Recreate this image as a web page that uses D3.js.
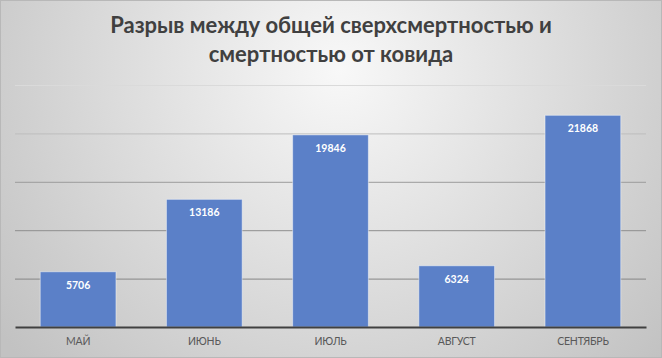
<!DOCTYPE html>
<html><head><meta charset="utf-8">
<script src="https://cdn.jsdelivr.net/npm/d3@7"></script>
<style>html,body{margin:0;padding:0;background:#fff;}svg{display:block;}</style>
</head><body>
<script>
const categories = ["МАЙ", "ИЮНЬ", "ИЮЛЬ", "АВГУСТ", "СЕНТЯБРЬ"];
const values = [5706, 13186, 19846, 6324, 21868];
const yTicks = [0, 5000, 10000, 15000, 20000, 25000];
const titleLines = ["Разрыв между общей сверхсмертностью и", "смертностью от ковида"];

const W = 662, H = 358;
const svg = d3.select("body").append("svg").attr("width", W).attr("height", H);
const defs = svg.append("defs");
const rg = defs.append("radialGradient").attr("id","bg").attr("gradientUnits","userSpaceOnUse")
  .attr("cx", 340).attr("cy", 70).attr("r", 430);
rg.append("stop").attr("offset","0%").attr("stop-color","#f8f8f8");
rg.append("stop").attr("offset","100%").attr("stop-color","#c2c2c2");
svg.append("rect").attr("width",W).attr("height",H).attr("fill","url(#bg)");
svg.append("rect").attr("x",0.5).attr("y",0.5).attr("width",W-1).attr("height",H-1)
  .attr("fill","none").attr("stroke","#b8b8b8").attr("stroke-width",1);

const m = {left:15, right:16, top:85, bottom:31};
const x = d3.scaleBand().domain(categories).range([m.left, W - m.right]).paddingInner(0.4).paddingOuter(0.2);
const y = d3.scaleLinear().domain([0, 25000]).range([H - m.bottom, m.top]);

const gridColors = {5000:"#858585",10000:"#8e8e8e",15000:"#9c9c9c",20000:"#bdbdbd",25000:"#dadada"};
const grid = svg.append("g").attr("transform",`translate(${m.left},0)`)
  .call(d3.axisRight(y).tickValues(yTicks.filter(d=>d>0)).tickSize(W - m.left - m.right).tickFormat(""));
grid.select(".domain").remove();
grid.selectAll(".tick line").attr("stroke", d => gridColors[d]).attr("stroke-width",1);

svg.append("g").selectAll("rect").data(values).join("rect")
  .attr("x",(d,i)=>x(categories[i])).attr("y",d=>y(d))
  .attr("width",x.bandwidth()).attr("height",d=>y(0)-y(d))
  .attr("fill","#5b80c8").attr("stroke","rgba(255,255,255,0.45)").attr("stroke-width",1);

svg.append("g").selectAll("text").data(values).join("text")
  .attr("x",(d,i)=>x(categories[i])+x.bandwidth()/2).attr("y",d=>y(d)+17)
  .attr("text-anchor","middle").attr("fill","#fff")
  .attr("font-family","Lato, 'Open Sans', sans-serif").attr("font-weight","bold").attr("font-size","10.5px")
  .text(d=>d);

const xAxis = svg.append("g").attr("transform",`translate(0,${y(0)})`)
  .call(d3.axisBottom(x).tickSize(0).tickPadding(11));
xAxis.select(".domain").attr("stroke","#404040").attr("stroke-width",2.2);
xAxis.selectAll("text").attr("font-family","Lato, 'Open Sans', sans-serif").attr("font-size","10.5px")
  .attr("letter-spacing","-0.2px").attr("fill","#595959");

const t = svg.append("text").attr("text-anchor","middle")
  .attr("font-family","Lato, 'Open Sans', sans-serif").attr("font-weight","bold").attr("font-size","22px").attr("fill","#404040");
t.selectAll("tspan").data(titleLines).join("tspan").attr("x",331).attr("y",(d,i)=>33+i*29).text(d=>d);
</script>
</body></html>
